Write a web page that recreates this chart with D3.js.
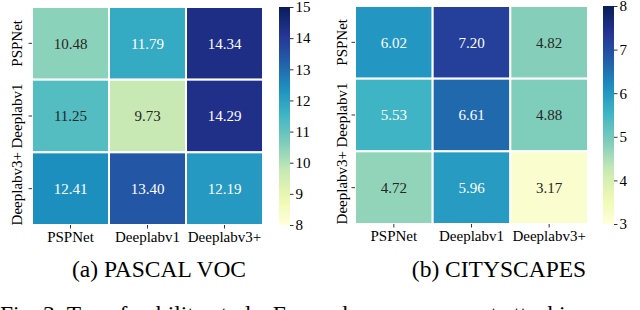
<!DOCTYPE html>
<html><head><meta charset="utf-8">
<script src="https://cdn.jsdelivr.net/npm/d3@7"></script>
<style>body{margin:0;background:#fff;}svg{display:block;}</style>
</head><body>
<svg id="c" width="640" height="310"></svg>
<script>
const FONT = "'Liberation Serif', 'Times New Roman', Tinos, 'DejaVu Serif', serif";
const models = ["PSPNet", "Deeplabv1", "Deeplabv3+"];
const vocValues = [[10.48, 11.79, 14.34], [11.25, 9.73, 14.29], [12.41, 13.40, 12.19]];
const cityValues = [[6.02, 7.20, 4.82], [5.53, 6.61, 4.88], [4.72, 5.96, 3.17]];
const vocTicks = [8, 9, 10, 11, 12, 13, 14, 15];
const cityTicks = [3, 4, 5, 6, 7, 8];
const captions = ["(a) PASCAL VOC", "(b) CITYSCAPES"];
const figCaption = "Fig. 3: Transferability study. For each we use current attacking";
const ylgnbu = ["#ffffd9","#edf8b1","#c7e9b4","#7fcdbb","#41b6c4","#1d91c0","#225ea8","#253494","#081d58"];

const svg = d3.select("#c").style("font-family", FONT);
const interp = d3.piecewise(d3.interpolateRgb, ylgnbu);

function lum(c){
  const rgb = d3.rgb(c);
  const f = v => { v/=255; return v <= 0.03928 ? v/12.92 : Math.pow((v+0.055)/1.055, 2.4); };
  return 0.2126*f(rgb.r)+0.7152*f(rgb.g)+0.0722*f(rgb.b);
}

function heatmap(cfg){
  const g = svg.append("g");
  const x = d3.scaleBand().domain(models).range([cfg.x0, cfg.x1]);
  const y = d3.scaleBand().domain(models).range([cfg.y0, cfg.y1]);
  const color = d3.scaleSequential(interp).domain(cfg.domain);
  const cells = [];
  cfg.values.forEach((row, i) => row.forEach((v, j) => cells.push({r: models[i], c: models[j], v})));
  g.selectAll("rect.cell").data(cells).enter().append("rect")
    .attr("x", d => x(d.c)).attr("y", d => y(d.r))
    .attr("width", x.bandwidth()).attr("height", y.bandwidth())
    .attr("fill", d => color(d.v)).attr("stroke", "#fff").attr("stroke-width", 2);
  g.selectAll("text.val").data(cells).enter().append("text")
    .attr("x", d => x(d.c) + x.bandwidth()/2).attr("y", d => y(d.r) + y.bandwidth()/2)
    .attr("dy", "0.35em").attr("text-anchor", "middle").attr("font-size", 15)
    .style("font-family", FONT)
    .attr("fill", d => lum(color(d.v)) > 0.408 ? "#262626" : "#ffffff")
    .text(d => d.v.toFixed(2));
  const xa = g.append("g").attr("transform", `translate(0,${cfg.y1})`)
    .call(d3.axisBottom(x).tickSize(3.5).tickPadding(3));
  xa.attr("font-family", null);
  xa.select(".domain").remove();
  xa.selectAll("text").attr("font-size", 15).attr("fill", "#000").style("font-family", FONT);
  xa.selectAll("line").attr("stroke", "#000").attr("stroke-width", 0.8);
  const ya = g.append("g").attr("transform", `translate(${cfg.x0},0)`)
    .call(d3.axisLeft(y).tickSize(3.5).tickPadding(3));
  ya.attr("font-family", null);
  ya.select(".domain").remove();
  ya.selectAll("line").attr("stroke", "#000").attr("stroke-width", 0.8);
  ya.selectAll("text").attr("font-size", 15).attr("fill", "#000").style("font-family", FONT)
    .attr("text-anchor", "middle").attr("x", 0).attr("dy", 0)
    .attr("transform", `translate(${-cfg.ylabOff},0) rotate(-90)`);
  const cb = d3.scaleLinear().domain(cfg.domain).range([cfg.y1, cfg.y0]);
  const gid = "grad" + cfg.id;
  const grad = svg.append("defs").append("linearGradient").attr("id", gid)
    .attr("x1", 0).attr("y1", 1).attr("x2", 0).attr("y2", 0);
  d3.range(0, 1.0001, 0.02).forEach(t => grad.append("stop").attr("offset", t)
    .attr("stop-color", color(cfg.domain[0] + t*(cfg.domain[1]-cfg.domain[0]))));
  g.append("rect").attr("x", cfg.cbx).attr("y", cfg.y0).attr("width", cfg.cbw)
    .attr("height", cfg.y1 - cfg.y0).attr("fill", `url(#${gid})`);
  const ca = g.append("g").attr("transform", `translate(${cfg.cbx + cfg.cbw},0)`)
    .call(d3.axisRight(cb).tickValues(cfg.ticks).tickSize(3.5).tickPadding(2).tickFormat(d3.format("d")));
  ca.attr("font-family", null);
  ca.select(".domain").remove();
  ca.selectAll("line").attr("stroke", "#000").attr("stroke-width", 0.8);
  ca.selectAll("text").attr("font-size", 15).attr("fill", "#000").style("font-family", FONT);
  g.append("text").attr("x", cfg.capx).attr("y", 277).attr("text-anchor", "middle")
    .style("font-family", FONT).attr("font-size", 23.5).attr("fill", "#000").text(cfg.caption);
}

heatmap({id: "a", values: vocValues, domain: [8, 15], ticks: vocTicks, x0: 32, x1: 263, y0: 7, y1: 225,
  cbx: 279, cbw: 11, ylabOff: 10, capx: 159, caption: captions[0]});
heatmap({id: "b", values: cityValues, domain: [3, 8], ticks: cityTicks, x0: 355, x1: 588, y0: 6, y1: 224,
  cbx: 603, cbw: 11, ylabOff: 8, capx: 499, caption: captions[1]});

svg.append("text").attr("x", 0).attr("y", 322).style("font-family", FONT)
  .attr("font-size", 23.5).attr("fill", "#000").text(figCaption);
</script>
</body></html>
